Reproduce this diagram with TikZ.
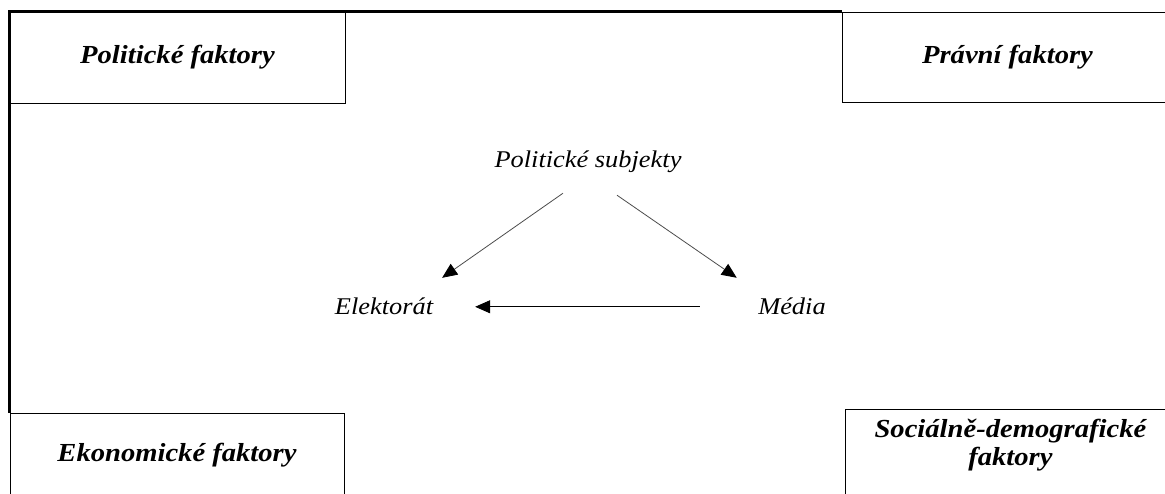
\documentclass[tikz,border=0pt]{standalone}
\usepackage{fontspec}
\setmainfont{Liberation Serif}[FakeStretch=1.1]
\usetikzlibrary{arrows.meta, positioning}

\begin{document}
\begin{tikzpicture}[x=1pt, y=-1pt,
  fbox/.style={draw, line width=.8pt, fill=white, inner sep=0pt,
               font=\fontsize{26}{28}\selectfont\bfseries\itshape, align=center},
  lbl/.style={font=\fontsize{24}{28}\selectfont\itshape, anchor=base},
  arr/.style={-{Triangle[length=15pt, width=13pt, color=black]}, line width=.8pt, color=black!70}
]
\useasboundingbox (0,0) rectangle (1165,494);

\node[fbox, minimum width=335pt, minimum height=91pt] (pol) at (177.5,57.5) {Politické faktory};
\node[fbox, minimum width=331pt, minimum height=90pt] (pra) at (1007.5,57) {Právní faktory};
\node[fbox, minimum width=334pt, minimum height=84pt] (eko) at (177,455) {Ekonomické faktory};
\node[fbox, minimum width=330pt, anchor=north west, inner ysep=10pt, text depth=60pt] (soc) at (845,409)
  {Sociálně-demografické\\faktory};

\draw[line width=2.5pt] (eko.north west) -- (pol.north west) -- (pra.north west);

\node[lbl] (sub) at (588,168) {Politické subjekty};
\node[lbl] (ele) at (384,315) {Elektorát};
\node[lbl] (med) at (792,315) {Média};

\draw[arr] ([xshift=-25pt, yshift=-16.5pt]sub.south) -- ([xshift=5.5pt, yshift=17pt]ele.north east);
\draw[arr] ([xshift=29pt, yshift=-18.5pt]sub.south) -- ([xshift=-18pt, yshift=17pt]med.north west);
\draw[arr, color=black, shorten <=55pt, shorten >=38.5pt] (med) -- (ele);
\end{tikzpicture}
\end{document}
